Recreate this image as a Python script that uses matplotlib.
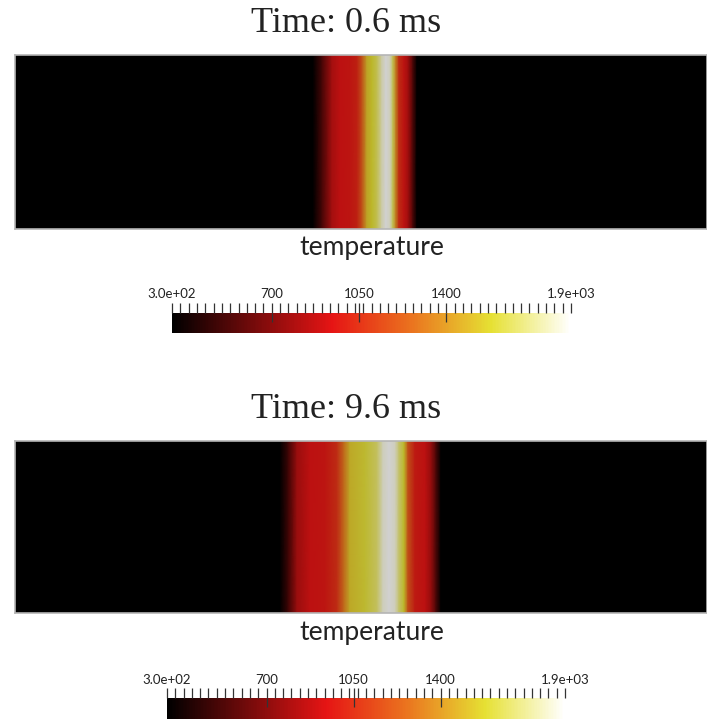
import numpy as np
import matplotlib.pyplot as plt
from matplotlib.colors import LinearSegmentedColormap, Normalize
from matplotlib.cm import ScalarMappable

# colour range and colorbar ticks
T_MIN, T_MAX = 300, 1900
cbar_ticks = [300, 700, 1050, 1400, 1900]
cbar_labels = ["3.0e+02", "700", "1050", "1400", "1.9e+03"]
inner_ticks = [700, 1050, 1400]  # these run down into the bar
n_minor = 49

times = ["0.6", "9.6"]

# temperature along the bar (x normalised by the visible domain length)
x_06 = [0.0, 0.4306, 0.4436, 0.4581, 0.4697, 0.4841, 0.4942, 0.5014, 0.5087, 0.5159, 0.5231,
        0.5303, 0.5361, 0.5419, 0.5462, 0.5506, 0.5549, 0.5621, 0.5679, 0.5751, 0.5809, 1.0]
T_06 = [300, 300, 540, 860, 940, 960, 1000, 1200, 1500, 1580, 1650,
        1820, 1900, 1850, 1650, 1350, 1050, 950, 850, 550, 300, 300]

x_96 = [0.0, 0.3829, 0.3945, 0.4075, 0.4263, 0.4480, 0.4653, 0.4754, 0.4841, 0.5058, 0.5231, 0.5318,
        0.5405, 0.5491, 0.5549, 0.5621, 0.5679, 0.5780, 0.5925, 0.6012, 0.6084, 0.6156, 1.0]
T_96 = [300, 300, 500, 820, 940, 960, 1050, 1300, 1520, 1590, 1680, 1850,
        1900, 1860, 1700, 1580, 1200, 980, 940, 800, 550, 300, 300]

profiles = [(x_06, T_06), (x_96, T_96)]

# black-body style colormap
bb_pos = [0.0, 0.4, 0.6, 0.8, 1.0]
bb_rgb = [(0.0, 0.0, 0.0), (0.90, 0.08, 0.08), (0.92, 0.45, 0.12), (0.90, 0.88, 0.20), (1.0, 1.0, 1.0)]
shade = 0.82  # the rendered field is a bit darker than the colorbar

bar_cmap = LinearSegmentedColormap.from_list("bb", list(zip(bb_pos, bb_rgb)))
field_cmap = LinearSegmentedColormap.from_list(
    "bb_shaded", [(p, tuple(c * shade for c in rgb)) for p, rgb in zip(bb_pos, bb_rgb)])
norm = Normalize(T_MIN, T_MAX)

W, H = 707, 720
fig = plt.figure(figsize=(W / 100, H / 100), dpi=100)


def box(x0, y0, x1, y1):
    # pixel box (top-left origin) -> figure fraction
    return [x0 / W, 1 - y1 / H, (x1 - x0) / W, (y1 - y0) / H]


layout = [
    dict(field=(15, 55, 707, 229), title_y=32, label_y=255, cbar=(172, 313, 571, 333)),
    dict(field=(15, 441, 707, 613), title_y=418, label_y=640, cbar=(167, 698, 565, 719)),
]

for (xs, Ts), t, lay in zip(profiles, times, layout):
    ax = fig.add_axes(box(*lay["field"]))
    ax.pcolormesh(np.array(xs), [0, 1], np.vstack([Ts, Ts]), shading="gouraud",
                  cmap=field_cmap, norm=norm)
    ax.set_xlim(0, 1)
    ax.set_ylim(0, 1)
    ax.set_xticks([])
    ax.set_yticks([])
    for s in ax.spines.values():
        s.set_color("#b5b5b5")
        s.set_linewidth(1.2)

    fig.text(346 / W, 1 - lay["title_y"] / H, f"Time: {t} ms", ha="center", va="baseline",
             fontsize=26, family="Liberation Serif", color="#222222")
    fig.text(372 / W, 1 - lay["label_y"] / H, "temperature", ha="center", va="baseline",
             fontsize=19, family="Lato", color="#222222")

    cax = fig.add_axes(box(*lay["cbar"]))
    cb = fig.colorbar(ScalarMappable(norm=norm, cmap=bar_cmap), cax=cax,
                      orientation="horizontal", ticklocation="top")
    cb.outline.set_visible(False)
    cb.set_ticks(cbar_ticks, labels=cbar_labels)
    cb.set_ticks(np.linspace(T_MIN, T_MAX, n_minor), minor=True)
    cax.tick_params(which="both", direction="out", length=7, width=0.9,
                    color="#333333", labelsize=9.5, pad=2)
    cax.vlines(inner_ticks, 0.55, 1.0, transform=cax.get_xaxis_transform(),
               color="#333333", linewidth=0.9)
    for lbl in cax.get_xticklabels():
        lbl.set_family("Lato")
        lbl.set_color("#222222")

fig.savefig("out.png", dpi=100)
